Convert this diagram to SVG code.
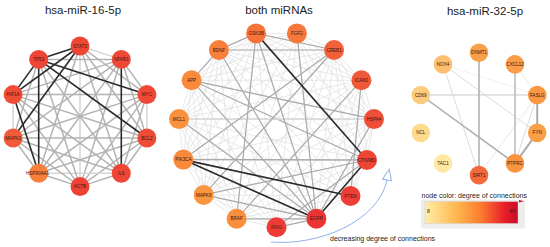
<svg xmlns="http://www.w3.org/2000/svg" width="550" height="247" viewBox="0 0 550 247">
<style>
.t{font-family:"Liberation Sans",Arial,sans-serif;fill:#222}
.ttl{font-size:11.5px;text-anchor:middle}
.nl{font-family:"Liberation Sans",Arial,sans-serif;font-size:4.6px;fill:#3a1a12;text-anchor:middle}
.dk{stroke:#2b2b2b;stroke-width:1.6}
.md{stroke:#b3b3b3;stroke-width:1.5}
.lt{stroke:#d6d6d6;stroke-width:1.5}
.mesh{stroke:#e2e2e2;stroke-width:0.8;fill:none}
.m2{stroke:#ababab;stroke-width:1.2}
.r1{stroke:#acacac;stroke-width:1.5}
.r2{stroke:#d2d2d2;stroke-width:0.8}
.r3{stroke:#e3e3e3;stroke-width:1.8}
</style>
<defs>
<linearGradient id="cb" x1="0" y1="0" x2="1" y2="0">
<stop offset="0" stop-color="#FFEEA6"/>
<stop offset="0.35" stop-color="#FEB54E"/>
<stop offset="0.6" stop-color="#FC7C2F"/>
<stop offset="0.85" stop-color="#E8202A"/>
<stop offset="1" stop-color="#CC0A28"/>
</linearGradient>
<marker id="ah" markerUnits="userSpaceOnUse" markerWidth="14" markerHeight="12" refX="0" refY="4.5" orient="auto" overflow="visible">
<path d="M0,0 L11,4.5 L0,9 z" fill="#fff" stroke="#8FB2E8" stroke-width="1"/>
</marker>
</defs>
<rect width="550" height="247" fill="#fff"/>

<text class="t ttl" x="83" y="14">hsa-miR-16-5p</text>
<text class="t ttl" x="279" y="14">both miRNAs</text>
<text class="t ttl" x="485" y="15">hsa-miR-32-5p</text>

<g id="connectors">
<!-- left network -->
<line class="lt" x1="80" y1="46" x2="121.3" y2="59.4"/>
<line class="md" x1="80" y1="46" x2="146.9" y2="94.6"/>
<line class="md" x1="80" y1="46" x2="146.9" y2="138"/>
<line class="md" x1="80" y1="46" x2="121.3" y2="173.2"/>
<line class="lt" x1="80" y1="46" x2="80" y2="186.6"/>
<line class="md" x1="80" y1="46" x2="38.7" y2="173.2"/>
<line class="md" x1="121.3" y1="59.4" x2="146.9" y2="94.6"/>
<line class="md" x1="121.3" y1="59.4" x2="146.9" y2="138"/>
<line class="md" x1="121.3" y1="59.4" x2="80" y2="186.6"/>
<line class="md" x1="121.3" y1="59.4" x2="38.7" y2="173.2"/>
<line class="md" x1="121.3" y1="59.4" x2="13.1" y2="138"/>
<line class="md" x1="121.3" y1="59.4" x2="13.1" y2="94.6"/>
<line class="md" x1="121.3" y1="59.4" x2="38.7" y2="59.4"/>
<line class="lt" x1="146.9" y1="94.6" x2="146.9" y2="138"/>
<line class="md" x1="146.9" y1="94.6" x2="121.3" y2="173.2"/>
<line class="md" x1="146.9" y1="94.6" x2="80" y2="186.6"/>
<line class="md" x1="146.9" y1="94.6" x2="38.7" y2="173.2"/>
<line class="md" x1="146.9" y1="94.6" x2="13.1" y2="138"/>
<line class="md" x1="146.9" y1="94.6" x2="13.1" y2="94.6"/>
<line class="md" x1="146.9" y1="138" x2="121.3" y2="173.2"/>
<line class="md" x1="146.9" y1="138" x2="80" y2="186.6"/>
<line class="md" x1="146.9" y1="138" x2="38.7" y2="173.2"/>
<line class="md" x1="146.9" y1="138" x2="13.1" y2="138"/>
<line class="md" x1="146.9" y1="138" x2="13.1" y2="94.6"/>
<line class="md" x1="121.3" y1="173.2" x2="80" y2="186.6"/>
<line class="lt" x1="121.3" y1="173.2" x2="38.7" y2="173.2"/>
<line class="md" x1="121.3" y1="173.2" x2="13.1" y2="138"/>
<line class="md" x1="121.3" y1="173.2" x2="13.1" y2="94.6"/>
<line class="md" x1="121.3" y1="173.2" x2="38.7" y2="59.4"/>
<line class="md" x1="80" y1="186.6" x2="38.7" y2="173.2"/>
<line class="md" x1="80" y1="186.6" x2="13.1" y2="138"/>
<line class="md" x1="80" y1="186.6" x2="13.1" y2="94.6"/>
<line class="md" x1="80" y1="186.6" x2="38.7" y2="59.4"/>
<line class="md" x1="38.7" y1="173.2" x2="13.1" y2="138"/>
<line class="lt" x1="13.1" y1="138" x2="13.1" y2="94.6"/>
<line class="md" x1="13.1" y1="138" x2="38.7" y2="59.4"/>
<line class="dk" x1="80" y1="46" x2="38.7" y2="59.4"/>
<line class="dk" x1="80" y1="46" x2="13.1" y2="94.6"/>
<line class="dk" x1="80" y1="46" x2="13.1" y2="138"/>
<line class="dk" x1="38.7" y1="59.4" x2="13.1" y2="94.6"/>
<line class="dk" x1="13.1" y1="94.6" x2="38.7" y2="173.2"/>
<line class="dk" x1="38.7" y1="59.4" x2="38.7" y2="173.2"/>
<line class="dk" x1="38.7" y1="59.4" x2="146.9" y2="94.6"/>
<line class="dk" x1="38.7" y1="59.4" x2="146.9" y2="138"/>
<line class="dk" x1="121.3" y1="59.4" x2="121.3" y2="173.2"/>

<!-- middle network: light mesh -->
<path class="mesh" d="M276.5 227.3L236.6 218.8M276.5 227.3L203.7 194.9M276.5 227.3L183.3 159.6M276.5 227.3L179 119.1M276.5 227.3L191.6 80.3M276.5 227.3L218.9 50M276.5 227.3L256.1 33.4M276.5 227.3L296.9 33.4M276.5 227.3L334.1 50M276.5 227.3L361.4 80.3M276.5 227.3L374 119.1M276.5 227.3L367 160M276.5 227.3L350.5 196M276.5 227.3L316.4 218.8M236.6 218.8L203.7 194.9M236.6 218.8L183.3 159.6M236.6 218.8L179 119.1M236.6 218.8L191.6 80.3M236.6 218.8L218.9 50M236.6 218.8L256.1 33.4M236.6 218.8L296.9 33.4M236.6 218.8L334.1 50M236.6 218.8L361.4 80.3M236.6 218.8L374 119.1M236.6 218.8L367 160M236.6 218.8L350.5 196M236.6 218.8L316.4 218.8M203.7 194.9L183.3 159.6M203.7 194.9L179 119.1M203.7 194.9L191.6 80.3M203.7 194.9L218.9 50M203.7 194.9L256.1 33.4M203.7 194.9L296.9 33.4M203.7 194.9L334.1 50M203.7 194.9L361.4 80.3M203.7 194.9L374 119.1M203.7 194.9L367 160M203.7 194.9L350.5 196M203.7 194.9L316.4 218.8M183.3 159.6L179 119.1M183.3 159.6L191.6 80.3M183.3 159.6L218.9 50M183.3 159.6L256.1 33.4M183.3 159.6L296.9 33.4M183.3 159.6L334.1 50M183.3 159.6L361.4 80.3M183.3 159.6L374 119.1M183.3 159.6L367 160M183.3 159.6L350.5 196M183.3 159.6L316.4 218.8M179 119.1L191.6 80.3M179 119.1L218.9 50M179 119.1L256.1 33.4M179 119.1L296.9 33.4M179 119.1L334.1 50M179 119.1L361.4 80.3M179 119.1L374 119.1M179 119.1L367 160M179 119.1L350.5 196M179 119.1L316.4 218.8M191.6 80.3L218.9 50M191.6 80.3L256.1 33.4M191.6 80.3L296.9 33.4M191.6 80.3L334.1 50M191.6 80.3L361.4 80.3M191.6 80.3L374 119.1M191.6 80.3L367 160M191.6 80.3L350.5 196M191.6 80.3L316.4 218.8M218.9 50L256.1 33.4M218.9 50L296.9 33.4M218.9 50L334.1 50M218.9 50L361.4 80.3M218.9 50L374 119.1M218.9 50L367 160M218.9 50L350.5 196M218.9 50L316.4 218.8M256.1 33.4L296.9 33.4M256.1 33.4L334.1 50M256.1 33.4L361.4 80.3M256.1 33.4L374 119.1M256.1 33.4L367 160M256.1 33.4L350.5 196M256.1 33.4L316.4 218.8M296.9 33.4L334.1 50M296.9 33.4L361.4 80.3M296.9 33.4L374 119.1M296.9 33.4L367 160M296.9 33.4L350.5 196M296.9 33.4L316.4 218.8M334.1 50L361.4 80.3M334.1 50L374 119.1M334.1 50L367 160M334.1 50L350.5 196M334.1 50L316.4 218.8M361.4 80.3L374 119.1M361.4 80.3L367 160M361.4 80.3L350.5 196M361.4 80.3L316.4 218.8M374 119.1L367 160M374 119.1L350.5 196M374 119.1L316.4 218.8M367 160L350.5 196M367 160L316.4 218.8M350.5 196L316.4 218.8"/>
<!-- middle network: medium edges -->
<line class="m2" x1="218.9" y1="50" x2="334.1" y2="50"/>
<line class="m2" x1="256.1" y1="33.4" x2="334.1" y2="50"/>
<line class="m2" x1="191.6" y1="80.3" x2="374" y2="119.1"/>
<line class="m2" x1="191.6" y1="80.3" x2="367" y2="160"/>
<line class="lt" x1="179" y1="119.1" x2="374" y2="119.1"/>
<line class="m2" x1="183.3" y1="159.6" x2="367" y2="160" style="stroke-width:1.5"/>
<line class="m2" x1="256.1" y1="33.4" x2="236.6" y2="218.8"/>
<line class="m2" x1="256.1" y1="33.4" x2="316.4" y2="218.8"/>
<line class="m2" x1="218.9" y1="50" x2="316.4" y2="218.8"/>
<line class="m2" x1="334.1" y1="50" x2="203.7" y2="194.9"/>
<line class="m2" x1="334.1" y1="50" x2="183.3" y2="159.6"/>
<line class="m2" x1="361.4" y1="80.3" x2="350.5" y2="196"/>
<line class="m2" x1="361.4" y1="80.3" x2="236.6" y2="218.8"/>
<line class="m2" x1="236.6" y1="218.8" x2="316.4" y2="218.8"/>
<line class="m2" x1="276.5" y1="227.3" x2="316.4" y2="218.8"/>
<line class="m2" x1="179" y1="119.1" x2="316.4" y2="218.8"/>
<line class="m2" x1="203.7" y1="194.9" x2="367" y2="160"/>
<line class="m2" x1="276.5" y1="227.3" x2="367" y2="160"/>
<line class="m2" x1="296.9" y1="33.4" x2="316.4" y2="218.8"/>
<line class="m2" x1="374" y1="119.1" x2="316.4" y2="218.8"/>
<line class="m2" x1="191.6" y1="80.3" x2="316.4" y2="218.8"/>
<line class="m2" x1="218.9" y1="50" x2="191.6" y2="80.3"/>
<line class="m2" x1="256.1" y1="33.4" x2="218.9" y2="50"/>
<line class="m2" x1="203.7" y1="194.9" x2="316.4" y2="218.8"/>
<!-- middle network: dark edges -->
<line class="dk" x1="256.1" y1="33.4" x2="367" y2="160"/>
<line class="dk" x1="183.3" y1="159.6" x2="350.5" y2="196"/>
<line class="dk" x1="183.3" y1="159.6" x2="316.4" y2="218.8"/>
<line class="dk" x1="316.4" y1="218.8" x2="367" y2="160"/>

<!-- right network -->
<line class="r3" x1="420.8" y1="95" x2="537.2" y2="95"/>
<line class="r2" x1="443" y1="64.4" x2="537.2" y2="132.8"/>
<line class="r2" x1="443" y1="64.4" x2="479" y2="175.1"/>
<line class="r2" x1="515" y1="64.4" x2="537.2" y2="95" style="stroke:#e6e6e6"/>
<line class="r2" x1="537.2" y1="95" x2="515" y2="163.4"/>
<line class="r2" x1="537.2" y1="95" x2="479" y2="175.1" style="stroke:#e2e2e2"/>
<line class="r2" x1="443" y1="64.4" x2="537.2" y2="95" style="stroke:#ececec"/>
<line class="r1" x1="479" y1="52.7" x2="479" y2="175.1"/>
<line class="r1" x1="515" y1="64.4" x2="515" y2="163.4" style="stroke:#b8b8b8"/>
<line class="r1" x1="420.8" y1="95" x2="515" y2="163.4"/>
<line class="r1" x1="537.2" y1="95" x2="537.2" y2="132.8" style="stroke-width:2"/>
<line class="r1" x1="537.2" y1="132.8" x2="515" y2="163.4" style="stroke-width:2"/>

<!-- decreasing degree arrow -->
<path d="M271 242 C318 246, 378 222, 387 180" fill="none" stroke="#8FB2E8" stroke-width="1" marker-end="url(#ah)"/>
</g>

<!-- left nodes -->
<g id="n-STAT3"><circle cx="80" cy="46" r="9.5" fill="#EE4535"/><text class="nl" x="80" y="47.6">STAT3</text></g>
<g id="n-NFKB1"><circle cx="121.3" cy="59.4" r="9.5" fill="#EF4836"/><text class="nl" x="121.3" y="61">NFKB1</text></g>
<g id="n-MYC"><circle cx="146.9" cy="94.6" r="9.5" fill="#EF4836"/><text class="nl" x="146.9" y="96.2">MYC</text></g>
<g id="n-BCL2"><circle cx="146.9" cy="138" r="9.5" fill="#F04B37"/><text class="nl" x="146.9" y="139.6">BCL2</text></g>
<g id="n-IL6"><circle cx="121.3" cy="173.2" r="9.5" fill="#EE4535"/><text class="nl" x="121.3" y="174.8">IL6</text></g>
<g id="n-ACTB"><circle cx="80" cy="186.6" r="9.5" fill="#EE4134"/><text class="nl" x="80" y="188.2">ACTB</text></g>
<g id="n-HSP90AA1"><circle cx="38.7" cy="173.2" r="9.5" fill="#F8803B"/><text class="nl" x="37.5" y="174.8">HSP90AA1</text></g>
<g id="n-MAPK3"><circle cx="13.1" cy="138" r="9.5" fill="#F25A3A"/><text class="nl" x="13.1" y="139.6">MAPK3</text></g>
<g id="n-HIF1A"><circle cx="13.1" cy="94.6" r="9.5" fill="#F04C37"/><text class="nl" x="13.1" y="96.2">HIF1A</text></g>
<g id="n-TP53"><circle cx="38.7" cy="59.4" r="9.5" fill="#EE4535"/><text class="nl" x="38.7" y="61">TP53</text></g>

<!-- middle nodes -->
<g id="n-IFNG"><circle cx="276.5" cy="227.3" r="10" fill="#EE3B35"/><text class="nl" x="276.5" y="228.9">IFNG</text></g>
<g id="n-BRAF"><circle cx="236.6" cy="218.8" r="10" fill="#F98E3D"/><text class="nl" x="236.6" y="220.4">BRAF</text></g>
<g id="n-MAPK8"><circle cx="203.7" cy="194.9" r="10" fill="#F9963F"/><text class="nl" x="203.7" y="196.5">MAPK8</text></g>
<g id="n-PIK3CA"><circle cx="183.3" cy="159.6" r="10" fill="#F98A3C"/><text class="nl" x="183.3" y="161.2">PIK3CA</text></g>
<g id="n-MCL1"><circle cx="179" cy="119.1" r="10" fill="#F9923E"/><text class="nl" x="179" y="120.7">MCL1</text></g>
<g id="n-APP"><circle cx="191.6" cy="80.3" r="10" fill="#F98A3C"/><text class="nl" x="191.6" y="81.9">APP</text></g>
<g id="n-BDNF"><circle cx="218.9" cy="50" r="10" fill="#F8803B"/><text class="nl" x="218.9" y="51.6">BDNF</text></g>
<g id="n-GSK3B"><circle cx="256.1" cy="33.4" r="10" fill="#F7733A"/><text class="nl" x="256.1" y="35">GSK3B</text></g>
<g id="n-FGF2"><circle cx="296.9" cy="33.4" r="10" fill="#F7773A"/><text class="nl" x="296.9" y="35">FGF2</text></g>
<g id="n-CREB1"><circle cx="334.1" cy="50" r="10" fill="#F2603A"/><text class="nl" x="334.1" y="51.6">CREB1</text></g>
<g id="n-ICAM1"><circle cx="361.4" cy="80.3" r="10" fill="#F0583A"/><text class="nl" x="361.4" y="81.9">ICAM1</text></g>
<g id="n-HSPA4"><circle cx="374" cy="119.1" r="10" fill="#EF4E37"/><text class="nl" x="374" y="120.7">HSPA4</text></g>
<g id="n-CTNNB1"><circle cx="367" cy="160" r="10" fill="#EE4433"/><text class="nl" x="367" y="161.6">CTNNB1</text></g>
<g id="n-PTEN"><circle cx="350.5" cy="196" r="10" fill="#EE3E35"/><text class="nl" x="350.5" y="197.6">PTEN</text></g>
<g id="n-EGFR"><circle cx="316.4" cy="218.8" r="10" fill="#EC3434"/><text class="nl" x="316.4" y="220.4">EGFR</text></g>

<!-- right nodes -->
<g id="n-DNMT1"><circle cx="479" cy="52.7" r="9.3" fill="#F9A04A"/><text class="nl" x="479" y="54.3">DNMT1</text></g>
<g id="n-CXCL12"><circle cx="515" cy="64.4" r="9.3" fill="#F99D48"/><text class="nl" x="515" y="66">CXCL12</text></g>
<g id="n-FASLG"><circle cx="537.2" cy="95" r="9.3" fill="#F99840"/><text class="nl" x="537.2" y="96.6">FASLG</text></g>
<g id="n-FYN"><circle cx="537.2" cy="132.8" r="9.3" fill="#F99F48"/><text class="nl" x="537.2" y="134.4">FYN</text></g>
<g id="n-PTPRC"><circle cx="515" cy="163.4" r="9.3" fill="#F99440"/><text class="nl" x="515" y="165">PTPRC</text></g>
<g id="n-SIRT1"><circle cx="479" cy="175.1" r="9.3" fill="#F26A3C"/><text class="nl" x="479" y="176.7">SIRT1</text></g>
<g id="n-TAC1"><circle cx="443" cy="163.4" r="9.3" fill="#FEE9A2"/><text class="nl" x="443" y="165">TAC1</text></g>
<g id="n-NCL"><circle cx="420.8" cy="132.8" r="9.3" fill="#FDDA8E"/><text class="nl" x="420.8" y="134.4">NCL</text></g>
<g id="n-CD69"><circle cx="420.8" cy="95" r="9.3" fill="#FDCB7D"/><text class="nl" x="420.8" y="96.6">CD69</text></g>
<g id="n-NOX4"><circle cx="443" cy="64.4" r="9.3" fill="#FDC070"/><text class="nl" x="443" y="66">NOX4</text></g>

<!-- legend -->
<g id="legend">
<text class="t" x="421.5" y="198" style="font-size:7px">node color: degree of connections</text>
<rect x="421" y="199.5" width="104" height="29" fill="#ededed"/>
<rect x="425" y="201.5" width="93" height="22" fill="url(#cb)" stroke="#cfcfcf" stroke-width="0.5"/>
<path d="M519 200 L524 201.2 L519 202.4 z" fill="#d0102a"/>
<text class="t" x="428.3" y="212.5" style="font-size:5px;text-anchor:middle">8</text>
<text class="t" x="511.7" y="212.5" style="font-size:5px;text-anchor:middle">40</text>
</g>
<text class="t" x="330" y="240.5" style="font-size:7px">decreasing degree of connections</text>
</svg>
